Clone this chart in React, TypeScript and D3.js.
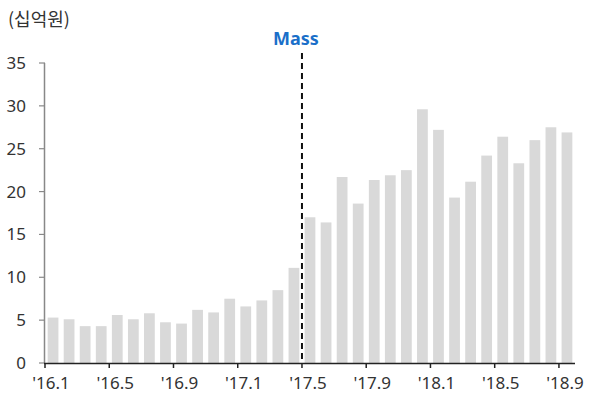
import React from "react";
import * as d3 from "d3";

const months = [
  "16.1","16.2","16.3","16.4","16.5","16.6","16.7","16.8","16.9","16.10","16.11","16.12",
  "17.1","17.2","17.3","17.4","17.5","17.6","17.7","17.8","17.9","17.10","17.11","17.12",
  "18.1","18.2","18.3","18.4","18.5","18.6","18.7","18.8","18.9",
];
const values = [
  5.3, 5.1, 4.3, 4.3, 5.6, 5.1, 5.8, 4.75, 4.6, 6.2, 5.9, 7.5,
  6.6, 7.3, 8.5, 11.1, 17.0, 16.4, 21.7, 18.6, 21.35, 21.9, 22.5, 29.6,
  27.2, 19.3, 21.15, 24.2, 26.4, 23.3, 26.0, 27.5, 26.9,
];
const yTicks = [0, 5, 10, 15, 20, 25, 30, 35];
const xLabelMonths = ["16.1","16.5","16.9","17.1","17.5","17.9","18.1","18.5","18.9"];
const markerMonth = "17.5";
const markerLabel = "Mass";
const unitLabel = "(십억원)";

const W = 593, H = 394;
const font = "'Noto Sans', 'Noto Sans CJK KR', sans-serif";

export default function App() {
  const left = 45, right = 575, top = 63, bottom = 363;
  const x = d3.scaleBand<string>().domain(months).range([left, right]).paddingInner(0.33).paddingOuter(0.165);
  const xb = d3.scaleBand<string>().domain(months).range([left, right]);
  const y = d3.scaleLinear().domain([0, 35]).range([bottom, top]);
  const mx = xb(markerMonth)!;
  return (
    <svg width={W} height={H} style={{ position: "absolute", left: 0, top: 0, background: "#fff" }}>
      <text x={8} y={26} fontFamily="'Noto Sans CJK KR', sans-serif" fontSize={18} fill="#333">{unitLabel}</text>
      {values.map((v, i) => (
        <rect key={i} x={x(months[i])} y={y(v)} width={x.bandwidth()} height={y(0) - y(v)} fill="#d9d9d9" />
      ))}
      <line x1={left - 0.5} x2={left - 0.5} y1={y(35)} y2={y(0)} stroke="#888" strokeWidth={1.5} />
      {yTicks.map((t) => (
        <g key={t}>
          <line x1={left - 6} x2={left} y1={y(t)} y2={y(t)} stroke="#888" strokeWidth={1.2} />
          <text x={26} y={y(t)} dy="0.35em" textAnchor="end" fontFamily={font} fontSize={17} fill="#333">{t}</text>
        </g>
      ))}
      <line x1={left - 1} x2={right} y1={bottom + 0.5} y2={bottom + 0.5} stroke="#222" strokeWidth={1.5} />
      {xLabelMonths.map((m) => {
        const px = xb(m)!;
        return (
          <g key={m}>
            <line x1={px} x2={px} y1={bottom} y2={bottom + 5} stroke="#222" strokeWidth={1.5} />
            <text x={px + 6} y={389} textAnchor="middle" fontFamily={font} fontSize={17} fill="#333">{"'" + m}</text>
          </g>
        );
      })}
      <line x1={mx} x2={mx} y1={53} y2={bottom} stroke="#111" strokeWidth={2} strokeDasharray="6,4" />
      <text x={mx - 6} y={45} textAnchor="middle" fontFamily={font} fontSize={18} fontWeight="bold" fill="#1a6fc9">{markerLabel}</text>
    </svg>
  );
}
